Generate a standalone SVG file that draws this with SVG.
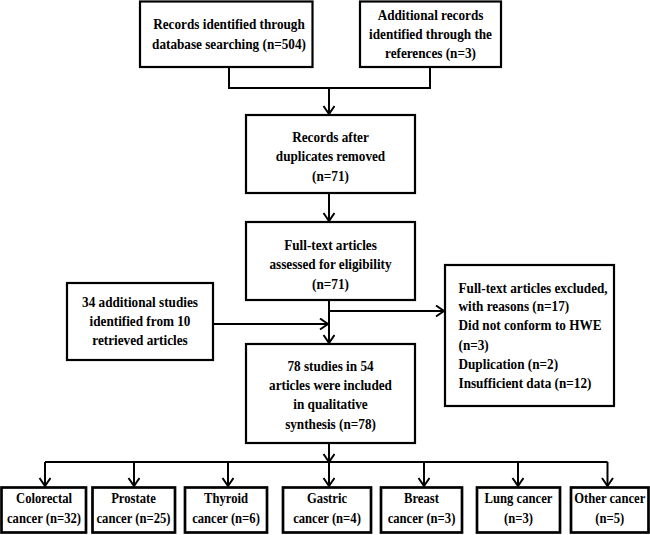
<svg xmlns="http://www.w3.org/2000/svg" width="650" height="535" viewBox="0 0 650 535">
<style>
.box{fill:#fff;stroke:#000;stroke-width:2.2}
.bbox{fill:#fff;stroke:#000;stroke-width:2.7}
.t{font-family:"Liberation Serif","Times New Roman",serif;font-weight:bold;font-size:14.2px;fill:#000;text-anchor:middle}
.s{font-size:13.6px}
.tl{text-anchor:start}
.c{fill:none;stroke:#000;stroke-width:2}
</style>
<defs>
<marker id="ah" markerUnits="userSpaceOnUse" markerWidth="12" markerHeight="14" refX="9" refY="6" orient="auto" viewBox="0 0 12 14">
<path d="M1,0.5 L9,6 L1,11.5" fill="none" stroke="#000" stroke-width="2"/>
</marker>
</defs>
<rect width="650" height="535" fill="#fff"/>
<g id="connectors">
<polyline class="c" points="229,67 229,88 430,88 430,67"/>
<line class="c" x1="329" y1="88" x2="329" y2="114" marker-end="url(#ah)"/>
<line class="c" x1="329" y1="193" x2="329" y2="221" marker-end="url(#ah)"/>
<line class="c" x1="329" y1="300" x2="329" y2="343" marker-end="url(#ah)"/>
<line class="c" x1="329" y1="311" x2="444" y2="311" marker-end="url(#ah)"/>
<line class="c" x1="213" y1="324" x2="328" y2="324" marker-end="url(#ah)"/>
<line class="c" x1="329" y1="443" x2="329" y2="462" marker-end="url(#ah)"/>
<line class="c" x1="45" y1="462" x2="607.5" y2="462"/>
<line class="c" x1="45" y1="462" x2="45" y2="486" marker-end="url(#ah)"/>
<line class="c" x1="134" y1="462" x2="134" y2="486" marker-end="url(#ah)"/>
<line class="c" x1="228" y1="462" x2="228" y2="486" marker-end="url(#ah)"/>
<line class="c" x1="329" y1="462" x2="329" y2="486" marker-end="url(#ah)"/>
<line class="c" x1="424" y1="462" x2="424" y2="486" marker-end="url(#ah)"/>
<line class="c" x1="518" y1="462" x2="518" y2="486" marker-end="url(#ah)"/>
<line class="c" x1="607.5" y1="462" x2="607.5" y2="486" marker-end="url(#ah)"/>
</g>
<g id="n_db">
<rect class="box" x="140" y="1.5" width="172.5" height="65.5"/>
<g transform="translate(229 0) scale(0.93 1)">
<text class="t" x="0" y="29.5">Records identified through</text>
<text class="t" x="0" y="49">database searching (n=504)</text>
</g>
</g>
<g id="n_add">
<rect class="box" x="360" y="1.5" width="141" height="65.5"/>
<g transform="translate(430.5 0) scale(0.93 1)">
<text class="t" x="0" y="20">Additional records</text>
<text class="t" x="0" y="39">identified through the</text>
<text class="t" x="0" y="58">references (n=3)</text>
</g>
</g>
<g id="n_dup">
<rect class="box" x="246" y="115" width="169" height="78"/>
<g transform="translate(330.5 0) scale(0.93 1)">
<text class="t" x="0" y="142.5">Records after</text>
<text class="t" x="0" y="161.5">duplicates removed</text>
<text class="t" x="0" y="181">(n=71)</text>
</g>
</g>
<g id="n_full">
<rect class="box" x="246" y="222" width="169" height="78"/>
<g transform="translate(330.5 0) scale(0.93 1)">
<text class="t" x="0" y="250.5">Full-text articles</text>
<text class="t" x="0" y="269.5">assessed for eligibility</text>
<text class="t" x="0" y="289">(n=71)</text>
</g>
</g>
<g id="n_34">
<rect class="box" x="67" y="283" width="146" height="77"/>
<g transform="translate(140 0) scale(0.93 1)">
<text class="t" x="0" y="307">34 additional studies</text>
<text class="t" x="0" y="326">identified from 10</text>
<text class="t" x="0" y="345">retrieved articles</text>
</g>
</g>
<g id="n_excl">
<rect class="box" x="445" y="265" width="169" height="141"/>
<g transform="translate(458.5 0) scale(0.93 1)">
<text class="t tl" x="0" y="293">Full-text articles excluded,</text>
<text class="t tl" x="0" y="311.5">with reasons (n=17)</text>
<text class="t tl" x="0" y="330.5">Did not conform to HWE</text>
<text class="t tl" x="0" y="350">(n=3)</text>
<text class="t tl" x="0" y="369">Duplication (n=2)</text>
<text class="t tl" x="0" y="388.5">Insufficient data (n=12)</text>
</g>
</g>
<g id="n_78">
<rect class="box" x="246" y="344" width="169" height="99"/>
<g transform="translate(330.5 0) scale(0.93 1)">
<text class="t" x="0" y="371">78 studies in 54</text>
<text class="t" x="0" y="390">articles were included</text>
<text class="t" x="0" y="409.5">in qualitative</text>
<text class="t" x="0" y="429">synthesis (n=78)</text>
</g>
</g>
<g id="n_colo">
<rect class="bbox" x="1.5" y="487.5" width="84.5" height="45"/>
<g transform="translate(44 0) scale(0.93 1)">
<text class="t s" x="0" y="503.5">Colorectal</text>
<text class="t s" x="0" y="523">cancer (n=32)</text>
</g>
</g>
<g id="n_pros">
<rect class="bbox" x="92.5" y="487.5" width="82.5" height="45"/>
<g transform="translate(133.5 0) scale(0.93 1)">
<text class="t s" x="0" y="503.5">Prostate</text>
<text class="t s" x="0" y="523">cancer (n=25)</text>
</g>
</g>
<g id="n_thy">
<rect class="bbox" x="185" y="487.5" width="82" height="45"/>
<g transform="translate(226 0) scale(0.93 1)">
<text class="t s" x="0" y="503.5">Thyroid</text>
<text class="t s" x="0" y="523">cancer (n=6)</text>
</g>
</g>
<g id="n_gas">
<rect class="bbox" x="283" y="487.5" width="88" height="45"/>
<g transform="translate(327 0) scale(0.93 1)">
<text class="t s" x="0" y="503.5">Gastric</text>
<text class="t s" x="0" y="523">cancer (n=4)</text>
</g>
</g>
<g id="n_bre">
<rect class="bbox" x="381" y="487.5" width="81" height="45"/>
<g transform="translate(421.5 0) scale(0.93 1)">
<text class="t s" x="0" y="503.5">Breast</text>
<text class="t s" x="0" y="523">cancer (n=3)</text>
</g>
</g>
<g id="n_lung">
<rect class="bbox" x="477" y="487.5" width="83" height="45"/>
<g transform="translate(518.5 0) scale(0.93 1)">
<text class="t s" x="0" y="503.5">Lung cancer</text>
<text class="t s" x="0" y="523">(n=3)</text>
</g>
</g>
<g id="n_other">
<rect class="bbox" x="571" y="487.5" width="77.5" height="45"/>
<g transform="translate(609.75 0) scale(0.93 1)">
<text class="t s" x="0" y="503.5">Other cancer</text>
<text class="t s" x="0" y="523">(n=5)</text>
</g>
</g>
</svg>
